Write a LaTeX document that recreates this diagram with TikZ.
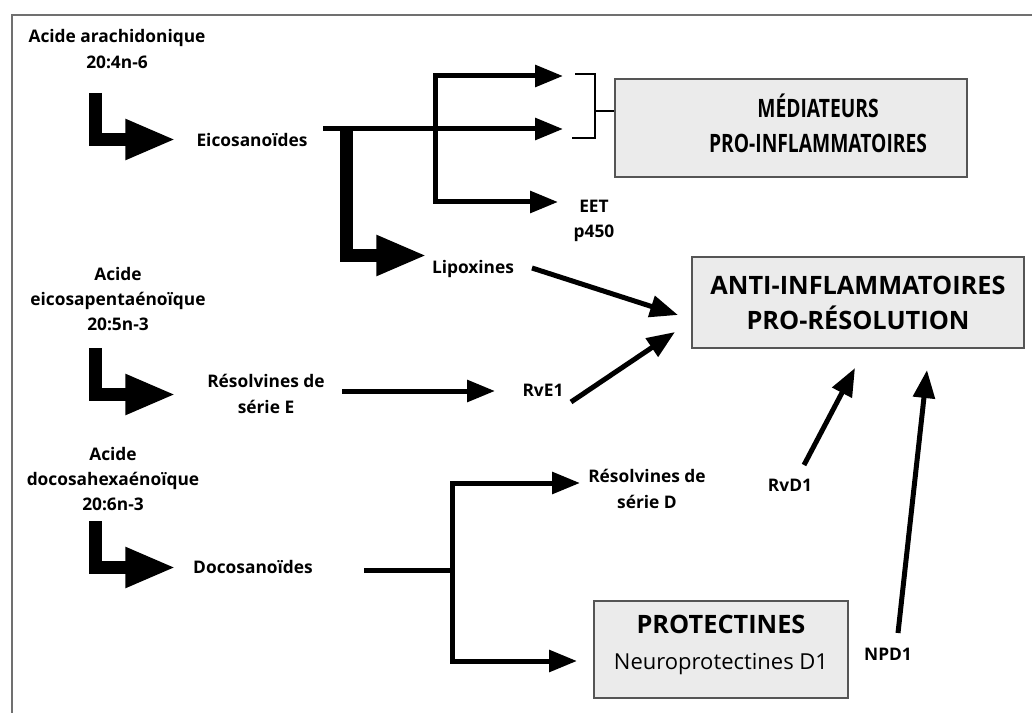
\documentclass[tikz,border=0pt]{standalone}
\usepackage{fontspec}
\setmainfont{Open Sans}
\usetikzlibrary{arrows.meta}
\definecolor{boxfill}{HTML}{EBEBEB}
\definecolor{boxline}{HTML}{555555}
\definecolor{framegray}{HTML}{707070}
\begin{document}
\begin{tikzpicture}[x=0.75pt,y=-0.75pt,
  lbl/.style={font=\bfseries\fontsize{13pt}{19pt}\selectfont, align=center, inner sep=0pt},
  bigbox/.style={draw=boxline, line width=1.1pt, fill=boxfill, align=center, inner sep=0pt},
  Larrow/.style={line width=9.75pt, miter limit=10, line join=miter, -{Triangle[length=38pt,width=28pt]}},
  tarrow/.style={line width=3.75pt, line join=miter, -{Triangle[length=21pt,width=16pt]}},
  tline/.style={line width=3.75pt, line join=miter},
  brk/.style={line width=2.2pt, line join=miter}
]
\useasboundingbox (0,0) rectangle (1032,713);
\draw[framegray, line width=1.5pt] (12,713) -- (12,15) -- (1032,15);

% labels
\node[lbl] (aa) at (117,49) {Acide arachidonique\\20:4n-6};
\node[lbl] (epa) at (118,299) {Acide\\eicosapentaénoïque\\20:5n-3};
\node[lbl] (dha) at (113,479) {Acide\\docosahexaénoïque\\20:6n-3};
\node[lbl] (eico) at (252,140) {Eicosanoïdes};
\node[lbl] (lipo) at (473,269) {Lipoxines};
\node[lbl] (eet) at (594,221) {EET\\p450};
\node[lbl] (rese) at (266,394) {Résolvines de\\série E};
\node[lbl] (rve) at (543,390) {RvE1};
\node[lbl] (resd) at (647,489) {Résolvines de\\série D};
\node[lbl] (rvd) at (790,485) {RvD1};
\node[lbl] (npd) at (888,654) {NPD1};
\node[lbl] (doco) at (253,567) {Docosanoïdes};

% boxes
\node[bigbox, minimum width=264pt, minimum height=73.5pt] (med) at (791,128) {};
\node[align=center, inner sep=0pt, font=\bfseries\fontsize{19pt}{26.25pt}\selectfont] (medtxt) at (818,123)
  {\scalebox{0.76}[1]{MÉDIATEURS}\\\scalebox{0.76}[1]{PRO-INFLAMMATOIRES}};
\node[bigbox, minimum width=249pt, minimum height=68.25pt,
  font=\bfseries\fontsize{19pt}{26.25pt}\selectfont] (anti) at (858,302.5)
  {ANTI-INFLAMMATOIRES\\PRO-RÉSOLUTION};
\node[bigbox, minimum width=190.5pt, minimum height=72.75pt] (prot) at (721,649.5) {};
\node[align=center, inner sep=0pt, font=\fontsize{16.5pt}{27pt}\selectfont] (prottxt) at (721,645)
  {{\bfseries\fontsize{19pt}{27pt}\selectfont PROTECTINES}\\Neuroprotectines D1};

% coordinates
\coordinate (l1a) at (95.5,93);
\coordinate (l1b) at (95.5,139.5);
\coordinate (l1c) at (176,139.5);
\coordinate (l2a) at (95.5,348);
\coordinate (l2b) at (95.5,394.5);
\coordinate (l2c) at (176,394.5);
\coordinate (l3a) at (95.5,521);
\coordinate (l3b) at (95.5,567.5);
\coordinate (l3c) at (176,567.5);

\coordinate (lpa) at (346.5,130);
\coordinate (lpb) at (346.5,255.5);
\coordinate (lpc) at (427,255.5);

\coordinate (emid0) at (323,129);
\coordinate (emid1) at (563,129);
\coordinate (etop1) at (563,76);
\coordinate (etop0) at (435,76);
\coordinate (ebot0) at (435,202);
\coordinate (ebot1) at (558,202);

\coordinate (bt0) at (575,74);
\coordinate (bt1) at (595,74);
\coordinate (bb0) at (572,138);
\coordinate (bb1) at (595,138);
\coordinate (bm) at (595,111);

\coordinate (lipoS) at (532,268);
\coordinate (lipoT) at (678,315);
\coordinate (reseS) at (342,391);
\coordinate (reseT) at (495,391);
\coordinate (rveS) at (571,402);
\coordinate (rveT) at (675,332);
\coordinate (rvdS) at (804,465);
\coordinate (rvdT) at (855,368);
\coordinate (npdS) at (898,633);
\coordinate (npdT) at (927,370);

\coordinate (docoS) at (364,570);
\coordinate (docoJ) at (452,570);
\coordinate (dtop1) at (580,483);
\coordinate (dtop0) at (452,483);
\coordinate (dbot0) at (452,661);
\coordinate (dbot1) at (577,661);

% L arrows
\draw[Larrow] (l1a) -- (l1b) -- (l1c);
\draw[Larrow] (l2a) -- (l2b) -- (l2c);
\draw[Larrow] (l3a) -- (l3b) -- (l3c);
\draw[Larrow] (lpa) -- (lpb) -- (lpc);

% eicosanoid branches
\draw[tarrow] (emid0) -- (emid1);
\draw[tline, {Triangle[length=21pt,width=16pt]}-{Triangle[length=21pt,width=16pt]}] (etop1) -- (etop0) -- (ebot0) -- (ebot1);

% bracket
\draw[brk] (bt0) -- (bt1) -- (bb1) -- (bb0);
\draw[brk] (bm) -- (med.west |- bm);

% to anti
\draw[tarrow] (lipoS) -- (lipoT);
\draw[tarrow] (reseS) -- (reseT);
\draw[tarrow] (rveS) -- (rveT);
\draw[tarrow] (rvdS) -- (rvdT);
\draw[tarrow] (npdS) -- (npdT);

% docosanoids
\draw[tline] (docoS) -- (docoJ);
\draw[tline, {Triangle[length=21pt,width=16pt]}-{Triangle[length=21pt,width=16pt]}] (dtop1) -- (dtop0) -- (dbot0) -- (dbot1);
\end{tikzpicture}
\end{document}
